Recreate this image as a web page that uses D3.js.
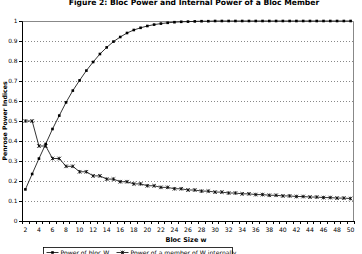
<!DOCTYPE html>
<html>
<head>
<meta charset="utf-8">
<script src="https://cdn.jsdelivr.net/npm/d3@7"></script>
<style>
  body { margin: 0; background: #fff; }
  svg { display: block; font-family: "DejaVu Sans", Verdana, sans-serif; }
</style>
</head>
<body>
<div class="chart"></div>
<script>
// bloc sizes 2..50
const blocSizes = [2,3,4,5,6,7,8,9,10,11,12,13,14,15,16,17,18,19,20,21,22,23,24,25,26,
  27,28,29,30,31,32,33,34,35,36,37,38,39,40,41,42,43,44,45,46,47,48,49,50]

const blocPower = [0.158,0.235,0.312,0.385,0.46,0.527,0.593,0.652,0.703,0.752,0.795,0.835,
  0.868,0.897,0.92,0.94,0.955,0.966,0.975,0.982,0.987,0.991,0.994,0.996,0.997,0.998,0.999,
  0.999,1,1,1,1,1,1,1,1,1,1,1,1,1,1,1,1,1,1,1,1,1]

const memberPower = [0.5,0.5,0.375,0.375,0.3125,0.3125,0.2734,0.2734,0.2461,0.2461,0.2256,
  0.2256,0.2095,0.2095,0.1964,0.1964,0.1855,0.1855,0.1762,0.1762,0.1682,0.1682,0.1612,0.1612,
  0.155,0.155,0.1494,0.1494,0.1445,0.1445,0.1399,0.1399,0.1358,0.1358,0.1321,0.1321,0.1286,
  0.1286,0.1254,0.1254,0.1224,0.1224,0.1197,0.1197,0.1171,0.1171,0.1146,0.1146,0.1123]

const yTicks = [0,0.1,0.2,0.3,0.4,0.5,0.6,0.7,0.8,0.9,1]
const seriesNames = ['Power of bloc W', 'Power of a member of W internally']

const W = 362, H = 254
const margin = {top: 21, right: 8, bottom: 33, left: 22}
const width = W - margin.left - margin.right,
      height = H - margin.top - margin.bottom

const svg = d3.select(".chart")
  .append("svg")
    .attr("width", W)
    .attr("height", H)

// title (clipped at the top like the original)
svg.append("text")
  .attr("x", 194)
  .attr("y", 4.5)
  .attr("text-anchor", "middle")
  .style("font-size", "7.6px")
  .style("font-weight", "bold")
  .text("Figure 2: Bloc Power and Internal Power of a Bloc Member")

const g = svg.append("g")
  .attr("transform", `translate(${margin.left},${margin.top})`)

const x = d3.scaleBand()
  .domain(blocSizes)
  .range([0, width])
  .padding(0)

const y = d3.scaleLinear()
  .domain([0, 1])
  .range([height, 0])

const cx = d => x(d) + x.bandwidth() / 2

// grid lines
g.append("g")
  .selectAll("line")
  .data(yTicks.filter(t => t > 0 && t < 1))
  .join("line")
    .attr("x1", 0)
    .attr("x2", width)
    .attr("y1", d => Math.round(y(d)) + 0.5)
    .attr("y2", d => Math.round(y(d)) + 0.5)
    .attr("stroke", "#888")
    .attr("stroke-width", 1)
    .attr("stroke-dasharray", "1,2")

// plot border (top + right)
g.append("path")
  .attr("d", `M0,${y(1) + 0.5}H${width - 0.5}V${height}`)
  .attr("fill", "none")
  .attr("stroke", "#888")

// y axis
g.append("g")
  .call(d3.axisLeft(y).tickValues(yTicks).tickSize(3).tickFormat(d3.format("")))
  .call(a => a.select(".domain").attr("stroke", "#000"))
  .call(a => a.selectAll(".tick text")
      .attr("x", -4.5)
      .style("font-size", "5.9px")
      .style("font-family", "DejaVu Sans, Verdana, sans-serif")
      .attr("fill", "#000"))

// x axis: tick marks at category boundaries, labels every other category
const xAxis = g.append("g")
  .attr("transform", `translate(0,${height})`)
xAxis.append("line")
  .attr("x1", 0).attr("x2", width)
  .attr("y1", 0.5).attr("y2", 0.5)
  .attr("stroke", "#000")
xAxis.selectAll(".bt")
  .data(blocSizes.concat([null]))
  .join("line")
    .attr("class", "bt")
    .attr("x1", (d, i) => Math.round(i * x.bandwidth()) + 0.5)
    .attr("x2", (d, i) => Math.round(i * x.bandwidth()) + 0.5)
    .attr("y1", 0)
    .attr("y2", 3)
    .attr("stroke", "#000")
xAxis.selectAll(".lbl")
  .data(blocSizes.filter(d => d % 2 == 0))
  .join("text")
    .attr("class", "lbl")
    .attr("x", d => cx(d))
    .attr("y", 10.5)
    .attr("text-anchor", "middle")
    .style("font-size", "6.1px")
    .text(d => d)

// axis titles
svg.append("text")
  .attr("x", 186)
  .attr("y", 242)
  .attr("text-anchor", "middle")
  .style("font-size", "6.5px")
  .style("font-weight", "bold")
  .text("Bloc Size w")

svg.append("text")
  .attr("transform", `translate(6.5,${margin.top + height / 2}) rotate(-90)`)
  .attr("text-anchor", "middle")
  .style("font-size", "6.2px")
  .style("font-weight", "bold")
  .text("Penrose Power Indices")

// lines
const line = d3.line()
  .x(d => cx(d[0]))
  .y(d => y(d[1]))

const blocData = blocSizes.map((w, i) => [w, blocPower[i]])
const memberData = blocSizes.map((w, i) => [w, memberPower[i]])

g.append("path")
  .datum(blocData)
  .attr("fill", "none")
  .attr("stroke", "#000")
  .attr("stroke-width", 0.8)
  .attr("d", line)

g.append("path")
  .datum(memberData)
  .attr("fill", "none")
  .attr("stroke", "#000")
  .attr("stroke-width", 0.8)
  .attr("d", line)

// square markers
g.append("g")
  .selectAll("rect")
  .data(blocData)
  .join("rect")
    .attr("x", d => cx(d[0]) - 1.3)
    .attr("y", d => y(d[1]) - 1.3)
    .attr("width", 2.6)
    .attr("height", 2.6)
    .attr("fill", "#000")

// star markers (x with a vertical bar)
const star = "M-1.8,-1.8L1.8,1.8M-1.8,1.8L1.8,-1.8M0,-1.8V1.8"
g.append("g")
  .selectAll("path")
  .data(memberData)
  .join("path")
    .attr("transform", d => `translate(${cx(d[0])},${y(d[1])})`)
    .attr("d", star)
    .attr("stroke", "#000")
    .attr("stroke-width", 0.8)
    .attr("fill", "none")

// legend (runs off the bottom edge like the original)
const legend = svg.append("g")
  .attr("transform", "translate(43.5,247.5)")
legend.append("rect")
  .attr("width", 189)
  .attr("height", 14)
  .attr("fill", "#fff")
  .attr("stroke", "#000")
  .attr("stroke-width", 0.8)

const legendX = [3, 73]
const items = legend.selectAll(".item")
  .data(seriesNames)
  .join("g")
    .attr("class", "item")
    .attr("transform", (d, i) => `translate(${legendX[i]},5)`)
items.append("line")
  .attr("x1", 0).attr("x2", 12)
  .attr("stroke", "#000")
  .attr("stroke-width", 0.8)
items.filter((d, i) => i == 0).append("rect")
  .attr("x", 4.7).attr("y", -1.3)
  .attr("width", 2.6).attr("height", 2.6)
items.filter((d, i) => i == 1).append("path")
  .attr("transform", "translate(6,0)")
  .attr("d", star)
  .attr("stroke", "#000")
  .attr("stroke-width", 0.8)
items.append("text")
  .attr("x", 14)
  .attr("y", 2.3)
  .style("font-size", "6.1px")
  .text(d => d)
</script>
</body>
</html>
